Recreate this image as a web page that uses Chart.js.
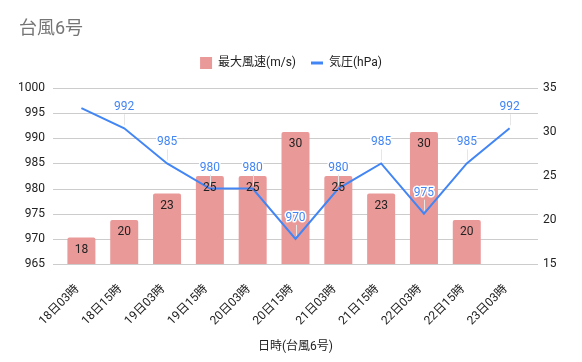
<!DOCTYPE html>
<html>
<head>
<meta charset="utf-8">
<script src="https://cdn.jsdelivr.net/npm/chart.js@4"></script>
<style>
  html, body { margin: 0; padding: 0; background: #fff; }
</style>
</head>
<body>
<canvas id="typhoonChart" width="582" height="362"></canvas>
<script>
const FONT = "Roboto, 'Noto Sans CJK JP', sans-serif";

const chartTitle = "台風6号";
const times = ["18日03時", "18日15時", "19日03時", "19日15時", "20日03時", "20日15時",
               "21日03時", "21日15時", "22日03時", "22日15時", "23日03時"];
const windSpeed = [18, 20, 23, 25, 25, 30, 25, 23, 30, 20, null];
const pressure = [996, 992, 985, 980, 980, 970, 980, 985, 975, 985, 992];
const unlabeledPoints = [0];
const pressureRange = [965, 1000];
const windRange = [15, 35];
const tickStep = 5;

// horizontal grid lines, a little wider than the plot like in Sheets
const sheetGrid = {
  id: "sheetGrid",
  beforeDatasetsDraw(chart) {
    const { ctx, chartArea } = chart;
    const y = chart.scales.y;
    ctx.save();
    ctx.strokeStyle = "#cccccc";
    ctx.lineWidth = 1;
    y.ticks.forEach(t => {
      const py = Math.round(y.getPixelForValue(t.value)) + 0.5;
      ctx.beginPath();
      ctx.moveTo(chartArea.left - 7, py);
      ctx.lineTo(chartArea.right + 7, py);
      ctx.stroke();
    });
    ctx.restore();
  }
};

const sheetTitle = {
  id: "sheetTitle",
  beforeDraw(chart) {
    const ctx = chart.ctx;
    ctx.save();
    ctx.font = "18px " + FONT;
    ctx.fillStyle = "#757575";
    ctx.textBaseline = "middle";
    ctx.fillText(chartTitle, 19, 29);
    ctx.restore();
  },
  beforeLayout(chart) {
    // push the plot down a bit under the legend
    const lg = chart.legend;
    if (lg && !lg._extraSpace) {
      const fit = lg.fit;
      lg.fit = function () { fit.call(this); this.height += 9; };
      lg._extraSpace = true;
    }
  }
};

const valueLabels = {
  id: "valueLabels",
  afterDatasetsDraw(chart) {
    const ctx = chart.ctx;
    ctx.save();
    ctx.font = "12px " + FONT;
    ctx.textAlign = "center";
    ctx.textBaseline = "middle";

    chart.getDatasetMeta(0).data.forEach((bar, i) => {
      if (windSpeed[i] == null) return;
      ctx.fillStyle = "#222222";
      ctx.fillText(windSpeed[i], bar.x, bar.y + 12);
    });

    chart.getDatasetMeta(1).data.forEach((pt, i) => {
      if (unlabeledPoints.includes(i)) return;
      const x = Math.round(pt.x) + 0.5;
      ctx.strokeStyle = "#e6e6e6";
      ctx.lineWidth = 1;
      ctx.beginPath();
      ctx.moveTo(x, pt.y - 14);
      ctx.lineTo(x, pt.y - 3);
      ctx.stroke();

      ctx.lineJoin = "round";
      ctx.strokeStyle = "#ffffff";
      ctx.lineWidth = 3;
      ctx.strokeText(pressure[i], pt.x, pt.y - 21);
      ctx.fillStyle = "#4285f4";
      ctx.fillText(pressure[i], pt.x, pt.y - 21);
    });
    ctx.restore();
  }
};

const ctx = document.getElementById("typhoonChart").getContext("2d");
const typhoonChart = new Chart(ctx, {
  type: "bar",
  data: {
    labels: times,
    datasets: [
      {
        type: "bar",
        label: "最大風速(m/s)",
        data: windSpeed,
        yAxisID: "y1",
        backgroundColor: "#ea9999",
        borderRadius: 2,
        barPercentage: 0.654,
        categoryPercentage: 1,
        order: 1,
      },
      {
        type: "line",
        label: "気圧(hPa)",
        data: pressure,
        yAxisID: "y",
        borderColor: "#4285f4",
        backgroundColor: "#4285f4",
        borderWidth: 2,
        pointRadius: 0,
        tension: 0,
        order: 0,
      },
    ],
  },
  options: {
    responsive: false,
    animation: false,
    layout: { padding: { top: 42, left: 0, right: 0, bottom: 0 } },
    plugins: {
      tooltip: { enabled: false },
      legend: {
        position: "top",
        labels: {
          usePointStyle: true,
          pointStyleWidth: 12,
          boxWidth: 12,
          boxHeight: 12,
          padding: 15,
          color: "#222222",
          font: { size: 12, family: FONT },
          generateLabels(chart) {
            return chart.data.datasets.map((ds, i) => {
              const isLine = ds.type === "line";
              return {
                text: ds.label,
                fillStyle: isLine ? ds.borderColor : ds.backgroundColor,
                strokeStyle: isLine ? ds.borderColor : ds.backgroundColor,
                lineWidth: isLine ? 3 : 0,
                pointStyle: isLine ? "line" : "rect",
                fontColor: "#222222",
                datasetIndex: i,
              };
            });
          },
        },
      },
    },
    scales: {
      x: {
        offset: true,
        grid: { display: false },
        border: { display: false },
        ticks: {
          autoSkip: false,
          minRotation: 45,
          maxRotation: 45,
          padding: 10,
          labelOffset: -4,
          color: "#222222",
          font: { size: 12, family: FONT },
        },
        title: {
          display: true,
          text: "日時(台風6号)",
          color: "#222222",
          font: { size: 12, family: FONT },
          padding: { top: 0, bottom: 8 },
        },
        afterFit(scale) { scale.height = 98; },
      },
      y: {
        position: "left",
        min: pressureRange[0],
        max: pressureRange[1],
        grid: { display: false, drawTicks: false },
        border: { display: false },
        ticks: {
          stepSize: tickStep,
          padding: 15,
          color: "#222222",
          font: { size: 12, family: FONT },
          callback: v => String(v),
        },
        afterFit(scale) { scale.width = 60; },
      },
      y1: {
        position: "right",
        min: windRange[0],
        max: windRange[1],
        grid: { display: false, drawTicks: false },
        border: { display: false },
        ticks: {
          stepSize: tickStep,
          padding: 12,
          color: "#222222",
          font: { size: 12, family: FONT },
          callback: v => String(v),
        },
        afterFit(scale) { scale.width = 51; },
      },
    },
  },
  plugins: [sheetGrid, sheetTitle, valueLabels],
});
</script>
</body>
</html>
